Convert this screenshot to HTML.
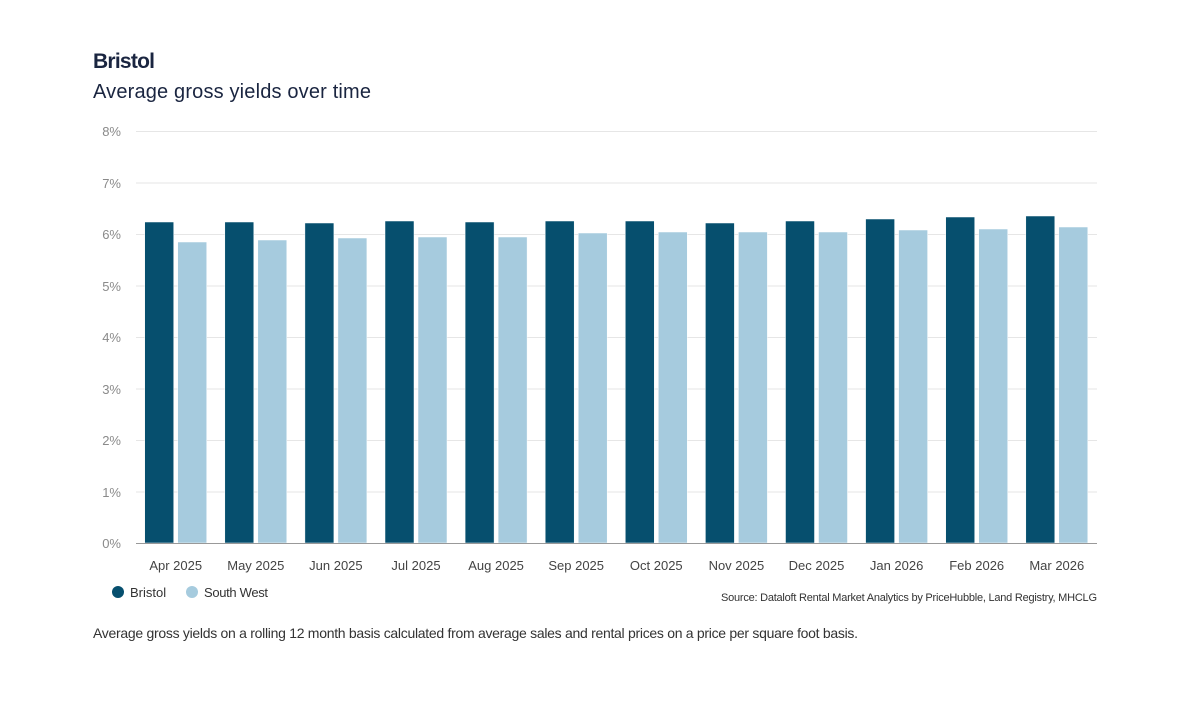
<!DOCTYPE html>
<html><head><meta charset="utf-8"><style>
body{margin:0;background:#fff;font-family:"Liberation Sans",sans-serif;}
</style></head><body>
<svg width="1200" height="706" xmlns="http://www.w3.org/2000/svg" font-family="Liberation Sans, sans-serif">
<rect width="1200" height="706" fill="#fff"/>
<text x="93" y="68" font-size="21" font-weight="bold" fill="#1a2540" textLength="62">Bristol</text>
<text x="93" y="98" font-size="20" fill="#1a2540" textLength="278">Average gross yields over time</text>
<g stroke="#e6e6e6" stroke-width="1">
<line x1="136" x2="1097" y1="131.5" y2="131.5"/><line x1="136" x2="1097" y1="183" y2="183"/>
<line x1="136" x2="1097" y1="234.5" y2="234.5"/><line x1="136" x2="1097" y1="286" y2="286"/>
<line x1="136" x2="1097" y1="337.5" y2="337.5"/><line x1="136" x2="1097" y1="389" y2="389"/>
<line x1="136" x2="1097" y1="440.5" y2="440.5"/><line x1="136" x2="1097" y1="492" y2="492"/>
</g>
<g font-size="13" fill="#8a8a8a" text-anchor="end">
<text x="121" y="136">8%</text><text x="121" y="188">7%</text><text x="121" y="239">6%</text>
<text x="121" y="291">5%</text><text x="121" y="342">4%</text><text x="121" y="394">3%</text>
<text x="121" y="445">2%</text><text x="121" y="497">1%</text><text x="121" y="548">0%</text>
</g>
<g id="bars"></g>
<line x1="136" x2="1097" y1="543.5" y2="543.5" stroke="#999" stroke-width="1"/>
<g font-size="13" fill="#444" text-anchor="middle" id="xl"></g>
<circle cx="118" cy="592" r="6" fill="#064f6e"/>
<text x="130" y="597" font-size="13" fill="#333">Bristol</text>
<circle cx="192" cy="592" r="6" fill="#a6cbde"/>
<text x="204" y="597" font-size="13" fill="#333" textLength="64">South West</text>
<text x="721" y="601" font-size="11" fill="#333" textLength="376">Source: Dataloft Rental Market Analytics by PriceHubble, Land Registry, MHCLG</text>
<text x="93" y="638" font-size="14" fill="#333" textLength="765">Average gross yields on a rolling 12 month basis calculated from average sales and rental prices on a price per square foot basis.</text>
</svg>
<script>
var b=[222,222,223,221,222,221,221,223,221,219,217,216];
var s=[242,240,238,237,237,233,232,232,232,230,229,227];
var m=["Apr 2025","May 2025","Jun 2025","Jul 2025","Aug 2025","Sep 2025","Oct 2025","Nov 2025","Dec 2025","Jan 2026","Feb 2026","Mar 2026"];
var g=document.getElementById("bars"),x=document.getElementById("xl"),h="",t="";
for(var i=0;i<12;i++){var x0=144.7+i*80.1;
h+='<rect x="'+x0+'" y="'+b[i]+'" width="29" height="'+(543-b[i])+'" fill="#064f6e" stroke="#fff" stroke-width="0.5"/>';
h+='<rect x="'+(x0+33)+'" y="'+s[i]+'" width="29" height="'+(543-s[i])+'" fill="#a6cbde" stroke="#fff" stroke-width="0.5"/>';
t+='<text x="'+(x0+31)+'" y="570">'+m[i]+'</text>';}
g.innerHTML=h;x.innerHTML=t;
</script>
</body></html>
